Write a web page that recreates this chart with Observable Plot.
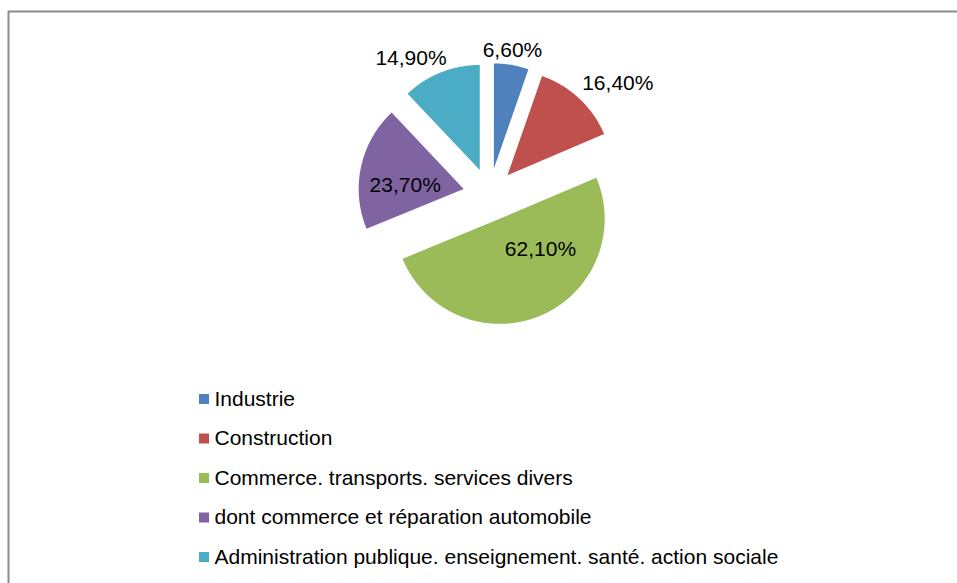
<!DOCTYPE html>
<html>
<head>
<meta charset="utf-8">
<script src="https://cdn.jsdelivr.net/npm/d3@7"></script>
<script src="https://cdn.jsdelivr.net/npm/@observablehq/plot@0.6"></script>
<style>
  html, body { margin: 0; padding: 0; background: #fff; }
  #chart svg { display: block; }
</style>
</head>
<body>
<div id="chart"></div>
<script>
// ---- data ----
const categories = [
  "Industrie",
  "Construction",
  "Commerce. transports. services divers",
  "dont commerce et réparation automobile",
  "Administration publique. enseignement. santé. action sociale"
];
const values = [6.6, 16.4, 62.1, 23.7, 14.9];
const valueLabels = ["6,60%", "16,40%", "62,10%", "23,70%", "14,90%"];
const colors = ["#4F81BD", "#C0504D", "#9BBB59", "#8064A2", "#4BACC6"];

// ---- layout ----
const W = 957, H = 583;
const cx = 489, cy = 194, R = 105, explode = 26.4;
// label placement per slice: [angle in degrees from 12 o'clock, distance as fraction of radius]
const labelPlacement = [[8.9, 1.142], [50.2, 1.367], [127, 0.486], [273.5, 0.558], [328.4, 1.249]];
const legendX = 203.5, legendTop = 398.5, legendStep = 39.5;
const font = "'Liberation Sans', Arial, sans-serif";
const fontSize = 21;

const arcs = d3.pie().sort(null).value(d => d)(values);

const polyPoints = [];
const labelRows = [];
arcs.forEach((a, i) => {
  const mid = (a.startAngle + a.endAngle) / 2;
  const ax = cx + explode * Math.sin(mid);
  const ay = cy - explode * Math.cos(mid);
  polyPoints.push({name: categories[i], x: ax, y: ay});
  const n = Math.max(2, Math.ceil((a.endAngle - a.startAngle) / (Math.PI / 360)));
  for (let k = 0; k <= n; k++) {
    const t = a.startAngle + (a.endAngle - a.startAngle) * k / n;
    polyPoints.push({name: categories[i], x: ax + R * Math.sin(t), y: ay - R * Math.cos(t)});
  }
  const [deg, f] = labelPlacement[i];
  const la = deg * Math.PI / 180;
  labelRows.push({text: valueLabels[i], x: ax + f * R * Math.sin(la), y: ay - f * R * Math.cos(la)});
});

const legendRows = categories.map((c, i) => ({name: c, x: legendX, y: legendTop + i * legendStep}));

const chart = Plot.plot({
  width: W,
  height: H,
  margin: 0,
  style: {fontFamily: font, background: "#fff"},
  x: {domain: [0, W], range: [0, W], axis: null},
  y: {domain: [0, H], range: [0, H], axis: null},
  color: {domain: categories, range: colors},
  marks: [
    Plot.ruleY([11], {x1: 8, x2: W, stroke: "#8c8c8c", strokeWidth: 2}),
    Plot.ruleX([8], {y1: 11, y2: H, stroke: "#8c8c8c", strokeWidth: 2}),
    Plot.line(polyPoints, {x: "x", y: "y", z: "name", fill: "name", stroke: "none", curve: "linear-closed"}),
    Plot.text(labelRows, {x: "x", y: "y", text: "text", fontSize, fill: "#000", fontFamily: font}),
    Plot.dot(legendRows, {x: "x", y: "y", symbol: "square", r: 5.64, fill: "name", stroke: "none"}),
    Plot.text(legendRows, {x: "x", y: "y", text: "name", dx: 10.5, textAnchor: "start", fontSize, fill: "#000", fontFamily: font})
  ]
});
document.getElementById("chart").appendChild(chart);
</script>
</body>
</html>
